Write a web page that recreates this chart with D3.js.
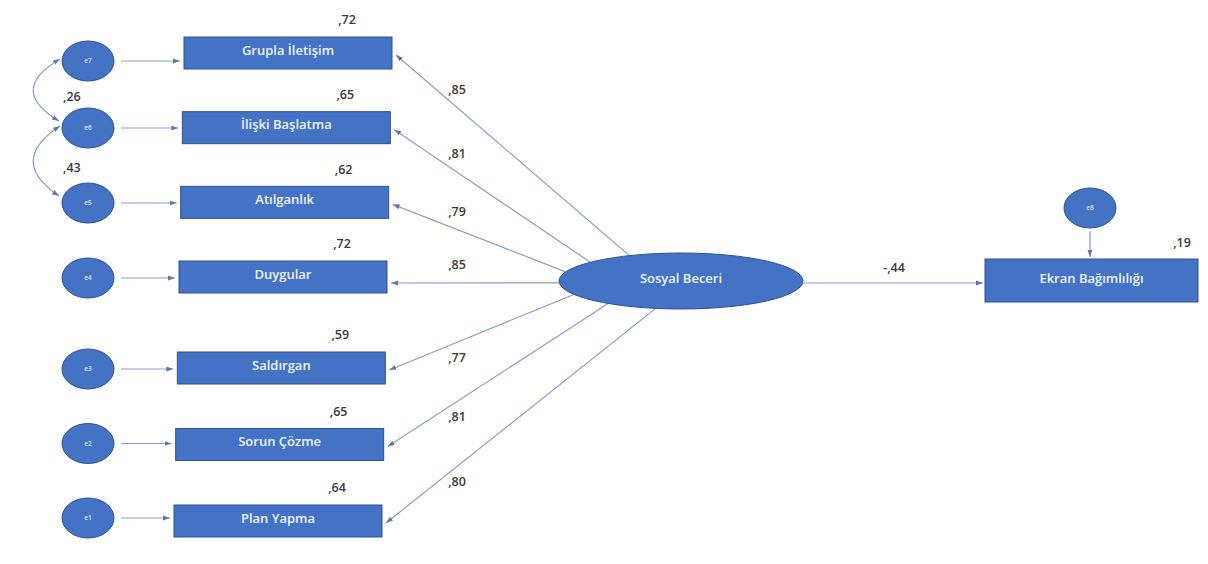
<!DOCTYPE html>
<html>
<head>
<meta charset="utf-8">
<script src="https://cdn.jsdelivr.net/npm/d3@7"></script>
<style>
body { margin: 0; background: #fff; }
</style>
</head>
<body>
<div id="chart"></div>
<script>
const indicators = ['Grupla İletişim', 'İlişki Başlatma', 'Atılganlık', 'Duygular', 'Saldırgan', 'Sorun Çözme', 'Plan Yapma'];
const errorNames = ['e7', 'e6', 'e5', 'e4', 'e3', 'e2', 'e1'];
const loadings = [0.85, 0.81, 0.79, 0.85, 0.77, 0.81, 0.80];
const rSquared = [0.72, 0.65, 0.62, 0.72, 0.59, 0.65, 0.64];
const covPairs = [[0, 1], [1, 2]];
const covValues = [0.26, 0.43];
const latentName = 'Sosyal Beceri';
const outcomeName = 'Ekran Bağımlılığı';
const outcomeError = 'e8';
const pathCoef = -0.44;
const outcomeR2 = 0.19;

const width = 1208;
const height = 564;
const boxFill = '#4472c4';
const boxStroke = '#2f528f';
const lineColor = '#8b9cc4';
const textColor = '#3b3b3b';
const font = '"Open Sans", "Noto Sans", sans-serif';
const nameFont = `600 13px ${font}`;
const numFont = `600 12.5px ${font}`;

// turkish style numbers: ,85  -,44
let fmt = v => (v < 0 ? '-' : '') + ',' + d3.format('.2f')(Math.abs(v)).slice(2);

// layout scales
let yBox = d3.scaleLinear().domain([0, 3, 4, 6]).range([53, 277, 368, 521]);
let yErr = d3.scaleLinear().domain([0, 1, 3, 4, 6]).range([61, 128, 278, 369, 518]);
let xBox = d3.scaleLinear().domain([0, 6]).range([184, 174]);
let startAngle = d3.scaleLinear().domain([0, 3, 6]).range([-115, -184, -258]);
const boxW = 208, boxH = 32;
const errX = 88, errRx = 26, errRy = 20;
const lat = {cx: 681, cy: 281, rx: 122, ry: 28};
const out = {x: 985, y: 259, w: 213, h: 43};
const e8 = {cx: 1090, cy: 208};

let svg = d3.select('#chart')
    .append('svg')
    .attr('width', width)
    .attr('height', height)
    .style('background', '#fff');

svg.append('defs').append('marker')
    .attr('id', 'arr')
    .attr('viewBox', '0 0 10 10')
    .attr('refX', 10)
    .attr('refY', 5)
    .attr('markerWidth', 7)
    .attr('markerHeight', 7)
    .attr('markerUnits', 'userSpaceOnUse')
    .attr('orient', 'auto-start-reverse')
    .append('path')
    .attr('d', 'M0,1.5 L10,5 L0,8.5 z')
    .attr('fill', '#5f76a8');

let idx = d3.range(indicators.length);

// covariance arcs between error terms
let covG = svg.append('g');
covPairs.forEach(function(p, k) {
    let y0 = yErr(p[0]) - 2, y1 = yErr(p[1]) - 7;
    let x0 = errX - errRx - 2;
    let path = d3.path();
    path.moveTo(x0, y0);
    path.quadraticCurveTo(errX - 81, (y0 + y1) / 2, x0 - 1, y1);
    covG.append('path')
        .attr('d', path.toString())
        .attr('fill', 'none')
        .attr('stroke', lineColor)
        .attr('stroke-width', 1.2)
        .attr('marker-start', 'url(#arr)')
        .attr('marker-end', 'url(#arr)');
    covG.append('text')
        .attr('x', errX - 25)
        .attr('y', (yErr(p[0]) + yErr(p[1])) / 2 + 2)
        .attr('dy', '0.35em')
        .attr('fill', textColor)
        .style('font', numFont)
        .text(fmt(covValues[k]));
});

// error -> indicator arrows
svg.selectAll('.errline').data(idx).enter()
    .append('line')
    .attr('x1', errX + errRx + 7)
    .attr('y1', i => yErr(i))
    .attr('x2', i => xBox(i) - 4)
    .attr('y2', i => yErr(i))
    .attr('stroke', lineColor)
    .attr('stroke-width', 1.2)
    .attr('marker-end', 'url(#arr)');

// error circles
let errG = svg.selectAll('.err').data(idx).enter().append('g');
errG.append('ellipse')
    .attr('cx', errX)
    .attr('cy', i => yErr(i))
    .attr('rx', errRx)
    .attr('ry', errRy)
    .attr('fill', boxFill)
    .attr('stroke', boxStroke)
    .attr('stroke-width', 1);
errG.append('text')
    .attr('x', errX)
    .attr('y', i => yErr(i))
    .attr('dy', '0.35em')
    .attr('text-anchor', 'middle')
    .attr('fill', '#dfe6f5')
    .style('font', `600 6.5px ${font}`)
    .text(i => errorNames[i]);

// loading lines from latent to indicators
let startPt = i => {
    let a = startAngle(i) * Math.PI / 180;
    return [lat.cx + lat.rx * Math.cos(a), lat.cy + lat.ry * Math.sin(a)];
};
let endPt = i => [xBox(i) + boxW + 4, yBox(i) + (i === 3 ? 6 : 2)];

svg.selectAll('.load').data(idx).enter()
    .append('line')
    .attr('x1', i => startPt(i)[0])
    .attr('y1', i => startPt(i)[1])
    .attr('x2', i => endPt(i)[0])
    .attr('y2', i => endPt(i)[1])
    .attr('stroke', lineColor)
    .attr('stroke-width', 1.2)
    .attr('marker-end', 'url(#arr)');

// loading labels, placed along each line
const labX = 457;
svg.selectAll('.loadlab').data(idx).enter()
    .append('text')
    .attr('x', labX)
    .attr('y', function(i) {
        let s = startPt(i), e = endPt(i);
        let t = (s[0] - labX) / (s[0] - e[0]);
        let y = s[1] + t * (e[1] - s[1]);
        return i <= 3 ? y - 18 : y + 15;
    })
    .attr('dy', '0.35em')
    .attr('text-anchor', 'middle')
    .attr('fill', textColor)
    .style('font', numFont)
    .text(i => fmt(loadings[i]));

// indicator boxes
let boxG = svg.selectAll('.box').data(idx).enter().append('g');
boxG.append('rect')
    .attr('x', i => xBox(i))
    .attr('y', i => yBox(i) - boxH / 2)
    .attr('width', boxW)
    .attr('height', boxH)
    .attr('fill', boxFill)
    .attr('stroke', boxStroke)
    .attr('stroke-width', 1);
boxG.append('text')
    .attr('x', i => xBox(i) + boxW / 2)
    .attr('y', i => yBox(i) - 3)
    .attr('dy', '0.35em')
    .attr('text-anchor', 'middle')
    .attr('fill', '#eef2fa')
    .style('font', nameFont)
    .text(i => indicators[i]);
boxG.append('text')
    .attr('x', i => xBox(i) + 163)
    .attr('y', i => yBox(i) - boxH / 2 - 17)
    .attr('dy', '0.35em')
    .attr('text-anchor', 'middle')
    .attr('fill', textColor)
    .style('font', numFont)
    .text(i => fmt(rSquared[i]));

// structural path
svg.append('line')
    .attr('x1', lat.cx + lat.rx)
    .attr('y1', lat.cy + 2)
    .attr('x2', out.x - 2)
    .attr('y2', lat.cy + 2)
    .attr('stroke', lineColor)
    .attr('stroke-width', 1.2)
    .attr('marker-end', 'url(#arr)');
svg.append('text')
    .attr('x', (lat.cx + lat.rx + out.x) / 2)
    .attr('y', lat.cy - 13)
    .attr('dy', '0.35em')
    .attr('text-anchor', 'middle')
    .attr('fill', textColor)
    .style('font', numFont)
    .text(fmt(pathCoef));

// latent ellipse
svg.append('ellipse')
    .attr('cx', lat.cx)
    .attr('cy', lat.cy)
    .attr('rx', lat.rx)
    .attr('ry', lat.ry)
    .attr('fill', boxFill)
    .attr('stroke', boxStroke)
    .attr('stroke-width', 1);
svg.append('text')
    .attr('x', lat.cx)
    .attr('y', lat.cy - 3)
    .attr('dy', '0.35em')
    .attr('text-anchor', 'middle')
    .attr('fill', '#eef2fa')
    .style('font', nameFont)
    .text(latentName);

// outcome + its error
svg.append('line')
    .attr('x1', e8.cx)
    .attr('y1', e8.cy + errRy + 3)
    .attr('x2', e8.cx)
    .attr('y2', out.y - 2)
    .attr('stroke', lineColor)
    .attr('stroke-width', 1.2)
    .attr('marker-end', 'url(#arr)');
svg.append('ellipse')
    .attr('cx', e8.cx)
    .attr('cy', e8.cy)
    .attr('rx', errRx)
    .attr('ry', errRy)
    .attr('fill', boxFill)
    .attr('stroke', boxStroke)
    .attr('stroke-width', 1);
svg.append('text')
    .attr('x', e8.cx)
    .attr('y', e8.cy)
    .attr('dy', '0.35em')
    .attr('text-anchor', 'middle')
    .attr('fill', '#dfe6f5')
    .style('font', `600 6.5px ${font}`)
    .text(outcomeError);
svg.append('rect')
    .attr('x', out.x)
    .attr('y', out.y)
    .attr('width', out.w)
    .attr('height', out.h)
    .attr('fill', boxFill)
    .attr('stroke', boxStroke)
    .attr('stroke-width', 1);
svg.append('text')
    .attr('x', out.x + out.w / 2)
    .attr('y', out.y + out.h / 2 - 2)
    .attr('dy', '0.35em')
    .attr('text-anchor', 'middle')
    .attr('fill', '#eef2fa')
    .style('font', nameFont)
    .text(outcomeName);
svg.append('text')
    .attr('x', out.x + out.w - 16)
    .attr('y', out.y - 16)
    .attr('dy', '0.35em')
    .attr('text-anchor', 'middle')
    .attr('fill', textColor)
    .style('font', numFont)
    .text(fmt(outcomeR2));
</script>
</body>
</html>
